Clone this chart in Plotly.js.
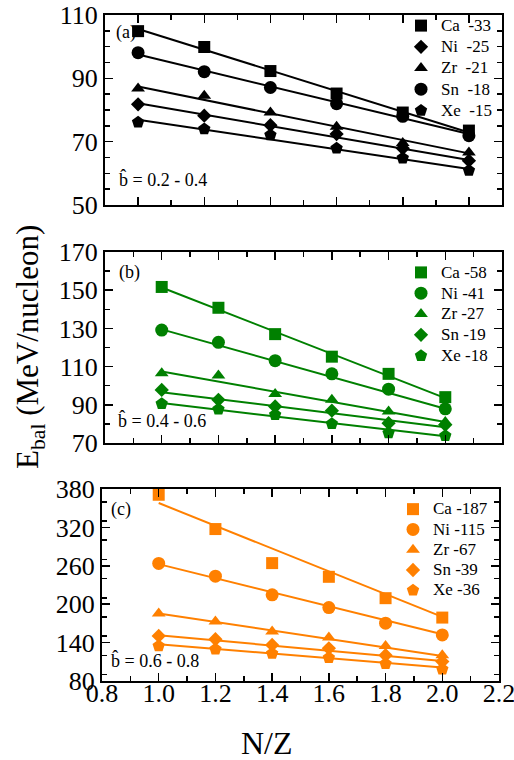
<!DOCTYPE html>
<html><head><meta charset="utf-8">
<script src="https://cdn.plot.ly/plotly-3.0.1.min.js"></script>
<style>html,body{margin:0;padding:0;background:#fff}#chart{width:514px;height:760px}</style>
</head><body><div id="chart"></div>
<script>
// ---- data ----
const nz = [1.0, 1.2, 1.4, 1.6, 1.8, 2.0];
const fitX = [1.0, 2.0];

// panel (a) b = 0.2 - 0.4
const aNames = ['Ca\u00a0 -33', 'Ni\u00a0 -25', 'Zr\u00a0 -21', 'Sn\u00a0 -18', 'Xe\u00a0 -15'];
const aCa = [104.9, 99.9, 92.3, 85.2, 79.2, 73.5];
const aNi = [81.8, 78.2, 75.2, 72.4, 67.9, 64.0];
const aZr = [86.8, 84.5, 79.2, 74.7, 69.6, 66.6];
const aSn = [98.1, 92.1, 87.1, 82.0, 78.0, 71.9];
const aXe = [76.1, 74.0, 72.1, 67.9, 64.8, 60.9];
const aCaFit = [105.6, 72.9];
const aNiFit = [82.1, 64.2];
const aZrFit = [87.4, 66.3];
const aSnFit = [97.5, 72.4];
const aXeFit = [76.9, 61.4];

// panel (b) b = 0.4 - 0.6
const bNames = ['Ca -58', 'Ni -41', 'Zr -27', 'Sn -19', 'Xe -18'];
const bCa = [151.7, 140.8, 127.0, 115.2, 106.2, 94.0];
const bNi = [129.1, 122.7, 113.1, 106.2, 98.2, 87.9];
const bZr = [106.5, 105.3, 95.6, 92.6, 86.5, 81.0];
const bSn = [97.8, 92.6, 89.1, 86.9, 80.4, 79.5];
const bXe = [90.5, 87.7, 84.8, 80.1, 75.2, 73.8];
const bCaFit = [151.4, 93.5];
const bNiFit = [129.5, 87.9];
const bZrFit = [107.4, 81.0];
const bSnFit = [96.6, 78.3];
const bXeFit = [90.9, 73.5];

// panel (c) b = 0.6 - 0.8
const cNames = ['Ca -187', 'Ni -115', 'Zr -67', 'Sn -39', 'Xe -36'];
const cCa = [371.0, 317.4, 264.2, 242.8, 209.4, 179.1];
const cNi = [263.7, 243.8, 214.6, 194.8, 170.3, 152.0];
const cZr = [185.4, 172.9, 157.2, 147.8, 134.8, 120.2];
const cSn = [150.4, 145.2, 136.4, 131.1, 120.2, 110.3];
const cXe = [134.8, 129.6, 122.8, 116.5, 107.1, 98.3];
const cCaFit = [358.1, 180.2];
const cNiFit = [262.6, 153.0];
const cZrFit = [185.4, 119.1];
const cSnFit = [151.5, 111.3];
const cXeFit = [137.4, 100.9];

const xTickVals = [0.8, 1.0, 1.2, 1.4, 1.6, 1.8, 2.0, 2.2];
const xTickText = ['0.8', '1.0', '1.2', '1.4', '1.6', '1.8', '2.0', '2.2'];

// ---- styling ----
const FONT = '"Liberation Serif", "Times New Roman", "DejaVu Serif", serif';
const W = 514, H = 760;
const px = v => v / W;
const py = v => 1 - v / H;

const traces = [];
function addPanel(xa, ya, color, legendId, names, series, fits, symbols, sizes) {
  series.forEach((s, i) => {
    traces.push({
      x: fitX, y: fits[i], xaxis: xa, yaxis: ya, mode: 'lines', type: 'scatter',
      line: {color: color, width: 2}, showlegend: false, hoverinfo: 'skip'
    });
  });
  series.forEach((s, i) => {
    traces.push({
      x: nz, y: s, xaxis: xa, yaxis: ya, mode: 'markers', type: 'scatter',
      name: '<span style="font-size:17px">' + names[i] + '</span>',
      legend: legendId, cliponaxis: false,
      marker: {symbol: symbols[i], size: sizes[i], color: color}
    });
  });
}
addPanel('x', 'y', '#000000', 'legend', aNames,
  [aCa, aNi, aZr, aSn, aXe], [aCaFit, aNiFit, aZrFit, aSnFit, aXeFit],
  ['square', 'diamond', 'triangle-up', 'circle', 'pentagon'], [12, 11, 12, 13, 13]);
addPanel('x2', 'y2', '#008000', 'legend2', bNames,
  [bCa, bNi, bZr, bSn, bXe], [bCaFit, bNiFit, bZrFit, bSnFit, bXeFit],
  ['square', 'circle', 'triangle-up', 'diamond', 'pentagon'], [12, 13, 12, 11, 13]);
addPanel('x3', 'y3', '#ff8000', 'legend3', cNames,
  [cCa, cNi, cZr, cSn, cXe], [cCaFit, cNiFit, cZrFit, cSnFit, cXeFit],
  ['square', 'circle', 'triangle-up', 'diamond', 'pentagon'], [12, 13, 12, 11, 13]);

function xAxis(domain, range, labels, anchor) {
  return {
    domain: domain, range: range, anchor: anchor,
    tickvals: xTickVals, ticktext: xTickText, showticklabels: labels,
    ticklabeloverflow: 'allow', ticklabelstandoff: -12,
    ticks: 'inside', ticklen: 8, tickwidth: 1.5, tickcolor: '#000',
    minor: {dtick: 0.1, tick0: 0.8, ticks: 'inside', ticklen: 5, tickwidth: 1.5, tickcolor: '#000'},
    showline: true, linewidth: 2, linecolor: '#000', mirror: 'allticks',
    showgrid: false, zeroline: false,
    tickfont: {family: FONT, size: 26, color: '#000'}
  };
}
function yAxis(domain, range, dtick, minor, anchor) {
  return {
    domain: domain, range: range, anchor: anchor, dtick: dtick, tick0: range[0],
    ticklabeloverflow: 'allow',
    ticks: 'inside', ticklen: 8, tickwidth: 1.5, tickcolor: '#000',
    minor: {dtick: minor, ticks: 'inside', ticklen: 5, tickwidth: 1.5, tickcolor: '#000'},
    showline: true, linewidth: 2, linecolor: '#000', mirror: 'allticks',
    showgrid: false, zeroline: false,
    tickfont: {family: FONT, size: 26, color: '#000'}
  };
}

function legend(xPix, yPix, fs) {
  return {x: px(xPix), y: py(yPix), xanchor: 'left', yanchor: 'top',
    bgcolor: 'rgba(0,0,0,0)', borderwidth: 0,
    font: {family: FONT, size: fs, color: '#000'}};
}

function ann(text, xPix, yPix, size) {
  return {text: text, x: px(xPix), y: py(yPix), xref: 'paper', yref: 'paper',
    xanchor: 'left', yanchor: 'middle', showarrow: false,
    font: {family: FONT, size: size || 18, color: '#000'}};
}

const layout = {
  width: W, height: H, margin: {l: 0, r: 0, t: 0, b: 0, autoexpand: false},
  paper_bgcolor: '#fff', plot_bgcolor: 'rgba(0,0,0,0)',
  font: {family: FONT, color: '#000'},
  xaxis: xAxis([px(105), px(502)], [0.9, 2.1], false, 'y'),
  yaxis: yAxis([py(205), py(15)], [50, 110], 20, 5, 'x'),
  xaxis2: xAxis([px(105), px(502)], [0.8, 2.2], false, 'y2'),
  yaxis2: yAxis([py(443), py(252)], [70, 170], 20, 10, 'x2'),
  xaxis3: xAxis([px(102), px(499)], [0.8, 2.2], true, 'y3'),
  yaxis3: yAxis([py(681), py(489)], [80, 380], 60, 30, 'x3'),
  legend: legend(401, 10, 14),
  legend2: legend(401, 257, 13.7),
  legend3: legend(393, 494, 13.3),
  annotations: [
    ann('(a)', 114, 32), ann('(b)', 117, 273), ann('(c)', 109, 509),
    ann('b\u0302 = 0.2 - 0.4', 117, 180, 18),
    ann('b\u0302 = 0.4 - 0.6', 116, 420, 18),
    ann('b\u0302 = 0.6 - 0.8', 109, 660, 18),
    {text: 'E<sub>bal</sub> (MeV/nucleon)', x: px(30), y: py(347), xref: 'paper', yref: 'paper',
     xanchor: 'center', yanchor: 'middle', textangle: -90, showarrow: false,
     font: {family: FONT, size: 31, color: '#000'}},
    {text: 'N/Z', x: px(267), y: py(743), xref: 'paper', yref: 'paper',
     xanchor: 'center', yanchor: 'middle', showarrow: false,
     font: {family: FONT, size: 32, color: '#000'}}
  ]
};

Plotly.newPlot('chart', traces, layout, {staticPlot: true, displayModeBar: false});
</script>
</body></html>
